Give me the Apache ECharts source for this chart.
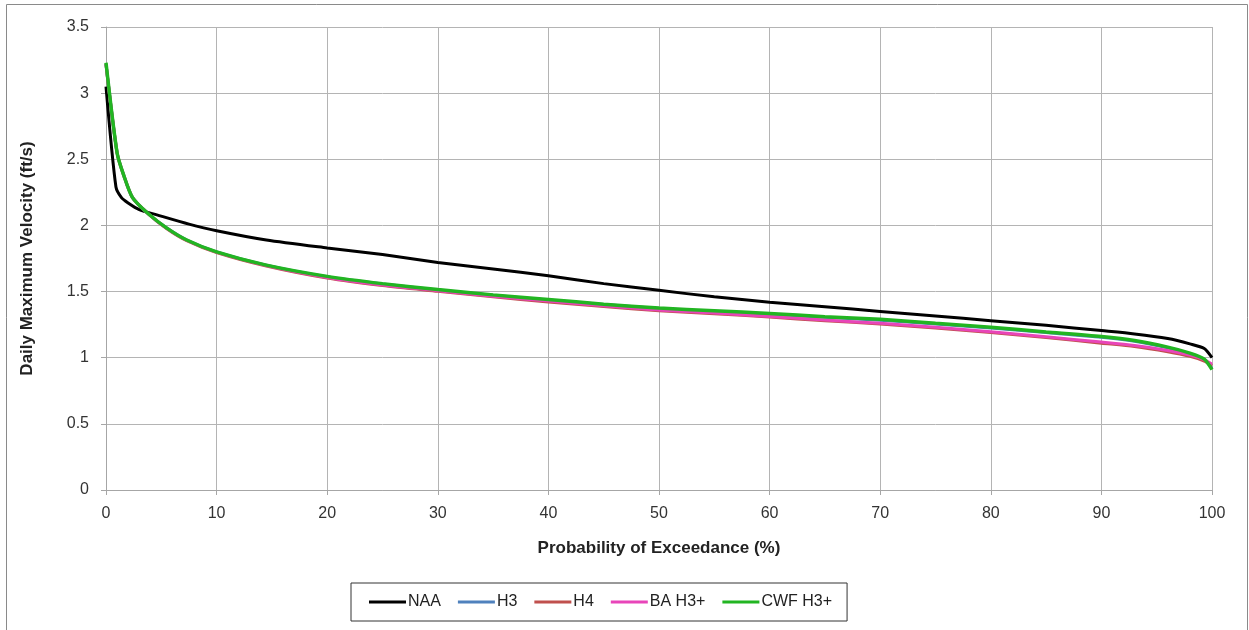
<!DOCTYPE html>
<html>
<head>
<meta charset="utf-8">
<script src="https://cdn.jsdelivr.net/npm/echarts@6/dist/echarts.min.js"></script>
<style>
html,body{margin:0;padding:0;background:#fff;}
#c{width:1249px;height:630px;}
</style>
</head>
<body>
<div id="c"></div>
<script>
// Probability of exceedance (%) and daily maximum velocity (ft/s)
var pctNAA = [0, 0.9, 1.4, 2.0, 3.0, 4.6, 7.5, 10, 14.5, 20, 25, 30, 35, 40, 45, 50, 55, 60, 65, 70, 75, 80, 85, 90, 93, 96, 98, 99.3, 100];
var valNAA = [3.05, 2.29, 2.21, 2.17, 2.12, 2.08, 2.01, 1.96, 1.89, 1.83, 1.78, 1.72, 1.67, 1.62, 1.56, 1.51, 1.46, 1.42, 1.385, 1.35, 1.315, 1.28, 1.245, 1.205, 1.18, 1.145, 1.105, 1.07, 1.0];

var pctAlt = [0, 1.0, 1.6, 2.4, 3.8, 5.5, 7.3, 10, 14.5, 20, 25, 30, 35, 40, 45, 50, 55, 60, 65, 70, 75, 80, 85, 90, 93, 96, 98, 99.3, 100];
var valH3  = [3.22, 2.55, 2.38, 2.21, 2.09, 1.98, 1.89, 1.80, 1.70, 1.612, 1.557, 1.512, 1.472, 1.437, 1.402, 1.372, 1.35, 1.33, 1.305, 1.284, 1.254, 1.224, 1.19, 1.155, 1.125, 1.075, 1.03, 0.985, 0.92];
var valH4  = [3.22, 2.55, 2.38, 2.21, 2.09, 1.975, 1.885, 1.795, 1.693, 1.602, 1.545, 1.502, 1.46, 1.422, 1.387, 1.355, 1.333, 1.307, 1.28, 1.255, 1.225, 1.19, 1.152, 1.11, 1.085, 1.045, 1.01, 0.975, 0.94];
var valBA  = [3.22, 2.55, 2.38, 2.21, 2.09, 1.978, 1.888, 1.798, 1.697, 1.607, 1.55, 1.507, 1.465, 1.428, 1.393, 1.36, 1.338, 1.312, 1.285, 1.26, 1.23, 1.196, 1.158, 1.118, 1.092, 1.055, 1.02, 0.985, 0.95];
var valCWF = [3.23, 2.55, 2.38, 2.21, 2.09, 1.98, 1.89, 1.80, 1.70, 1.615, 1.56, 1.515, 1.475, 1.44, 1.405, 1.375, 1.355, 1.335, 1.31, 1.29, 1.26, 1.23, 1.195, 1.16, 1.13, 1.08, 1.035, 0.99, 0.91];

var seriesNames = ['NAA', 'H3', 'H4', 'BA H3+', 'CWF H3+'];
var xTicks = {min: 0, max: 100, step: 10};
var yTicks = {min: 0, max: 3.5, step: 0.5};

function pairs(xs, ys) { return xs.map(function (x, i) { return [x, ys[i]]; }); }

var colors = ['#000000', '#4F81BD', '#C0504D', '#E845B9', '#22B522'];
var widths = [3, 3, 3, 3, 3.5];
var dataSets = [pairs(pctNAA, valNAA), pairs(pctAlt, valH3), pairs(pctAlt, valH4), pairs(pctAlt, valBA), pairs(pctAlt, valCWF)];

var FONT = 'Liberation Sans';
var chart = echarts.init(document.getElementById('c'), null, {renderer: 'canvas'});
chart.setOption({
  animation: false,
  backgroundColor: '#ffffff',
  textStyle: {fontFamily: FONT},
  graphic: [{
    type: 'rect', silent: true, z: -1,
    shape: {x: 6.5, y: 4.5, width: 1241, height: 700},
    style: {fill: 'none', stroke: '#8a8a8a', lineWidth: 1}
  }],
  grid: {left: 106, right: 37, top: 27, bottom: 140, containLabel: false},
  legend: {
    data: seriesNames,
    left: 351, top: 583,
    padding: [11, 15, 11, 18],
    itemGap: 17,
    itemWidth: 37, itemHeight: 3,
    icon: 'rect',
    borderColor: '#333', borderWidth: 1,
    textStyle: {fontFamily: FONT, fontSize: 16, color: '#222', padding: [0, 0, 0, -3]}
  },
  xAxis: {
    type: 'value', min: xTicks.min, max: xTicks.max, interval: xTicks.step,
    name: 'Probability of Exceedance (%)', nameLocation: 'middle', nameGap: 50,
    nameTextStyle: {fontFamily: FONT, fontSize: 17, fontWeight: 'bold', color: '#222'},
    axisLine: {lineStyle: {color: '#a6a6a6', width: 1}},
    axisTick: {show: true, length: 5, lineStyle: {color: '#a6a6a6'}},
    axisLabel: {fontFamily: FONT, fontSize: 16, color: '#333', margin: 16},
    splitLine: {show: true, lineStyle: {color: '#b4b4b4', width: 1}}
  },
  yAxis: {
    type: 'value', min: yTicks.min, max: yTicks.max, interval: yTicks.step,
    name: 'Daily Maximum Velocity (ft/s)', nameLocation: 'middle', nameGap: 70,
    nameTextStyle: {fontFamily: FONT, fontSize: 17, fontWeight: 'bold', color: '#222'},
    axisLine: {show: true, lineStyle: {color: '#a6a6a6', width: 1}},
    axisTick: {show: true, length: 5, lineStyle: {color: '#a6a6a6'}},
    axisLabel: {fontFamily: FONT, fontSize: 16, color: '#333', margin: 17},
    splitLine: {show: true, lineStyle: {color: '#b4b4b4', width: 1}}
  },
  series: seriesNames.map(function (n, i) {
    return {
      name: n, type: 'line', data: dataSets[i],
      showSymbol: false, symbol: 'none', smooth: 0.25,
      color: colors[i],
      lineStyle: {color: colors[i], width: widths[i]},
      z: 2 + i
    };
  })
});
</script>
</body>
</html>
